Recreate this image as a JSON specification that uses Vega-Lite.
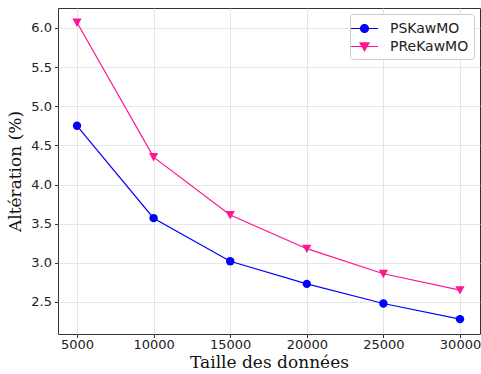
{
  "$schema": "https://vega.github.io/schema/vega-lite/v6.json",
  "width": 422,
  "height": 326,
  "autosize": "none",
  "padding": {"left": 58, "top": 8, "right": 1, "bottom": 40},
  "background": "white",
  "config": {
    "view": {"stroke": "#333333", "strokeWidth": 1},
    "axis": {
      "domain": false,
      "grid": true,
      "gridColor": "#e0e0e0",
      "gridWidth": 0.8,
      "tickColor": "#333333",
      "tickSize": 3.5,
      "labelFont": "DejaVu Sans",
      "labelFontSize": 13,
      "labelColor": "#222222",
      "titleFont": "DejaVu Serif",
      "titleFontSize": 17,
      "titleFontWeight": "normal",
      "titleColor": "#111111"
    },
    "legend": {
      "orient": "top-right",
      "offset": 6,
      "fillColor": "white",
      "strokeColor": "#cccccc",
      "cornerRadius": 3,
      "padding": 5,
      "labelFont": "DejaVu Sans",
      "labelFontSize": 14,
      "labelColor": "#222222",
      "symbolSize": 289,
      "symbolStrokeWidth": 1.2,
      "rowPadding": 1,
      "labelOffset": 16
    }
  },
  "data": {
    "values": [
      {"n": 5000, "v": 4.75, "s": "PSKawMO"},
      {"n": 10000, "v": 3.57, "s": "PSKawMO"},
      {"n": 15000, "v": 3.02, "s": "PSKawMO"},
      {"n": 20000, "v": 2.73, "s": "PSKawMO"},
      {"n": 25000, "v": 2.48, "s": "PSKawMO"},
      {"n": 30000, "v": 2.28, "s": "PSKawMO"},
      {"n": 5000, "v": 6.07, "s": "PReKawMO"},
      {"n": 10000, "v": 4.35, "s": "PReKawMO"},
      {"n": 15000, "v": 3.61, "s": "PReKawMO"},
      {"n": 20000, "v": 3.18, "s": "PReKawMO"},
      {"n": 25000, "v": 2.86, "s": "PReKawMO"},
      {"n": 30000, "v": 2.65, "s": "PReKawMO"}
    ]
  },
  "encoding": {
    "x": {
      "field": "n", "type": "quantitative",
      "scale": {"domain": [3760, 31305], "nice": false, "zero": false},
      "axis": {"values": [5000, 10000, 15000, 20000, 25000, 30000], "format": "d", "title": "Taille des données", "titlePadding": 3, "labelPadding": 1}
    },
    "y": {
      "field": "v", "type": "quantitative",
      "scale": {"domain": [2.09, 6.255], "nice": false, "zero": false},
      "axis": {"values": [2.5, 3.0, 3.5, 4.0, 4.5, 5.0, 5.5, 6.0], "format": ".1f", "title": "Altération (%)", "titlePadding": 6, "labelPadding": 3}
    },
    "color": {
      "field": "s", "type": "nominal",
      "scale": {"domain": ["PSKawMO", "PReKawMO"], "range": ["#0000ff", "#ff1493"]},
      "legend": {
        "title": null,
        "encode": {
          "symbols": {
            "update": {
              "shape": {"signal": "datum.value === 'PSKawMO' ? 'M-1.6,0L1.6,0M0.47,0A0.47,0.47 0 1 1 -0.47,0A0.47,0.47 0 1 1 0.47,0Z' : 'M-1.6,0L1.6,0M-0.53,-0.42L0.53,-0.42L0,0.5Z'"},
              "fill": {"signal": "scale('color', datum.value)"},
              "stroke": {"signal": "scale('color', datum.value)"},
              "strokeWidth": {"value": 1.2},
              "opacity": {"value": 1}
            }
          }
        }
      }
    }
  },
  "layer": [
    {"mark": {"type": "line", "strokeWidth": 1.2}},
    {
      "transform": [{"filter": "datum.s === 'PSKawMO'"}],
      "mark": {"type": "point", "filled": true, "opacity": 1, "shape": "circle", "size": 70}
    },
    {
      "transform": [{"filter": "datum.s === 'PReKawMO'"}],
      "mark": {"type": "point", "filled": true, "opacity": 1, "shape": "M-1.15,-1L1.15,-1L0,1.1Z", "size": 64}
    }
  ]
}
